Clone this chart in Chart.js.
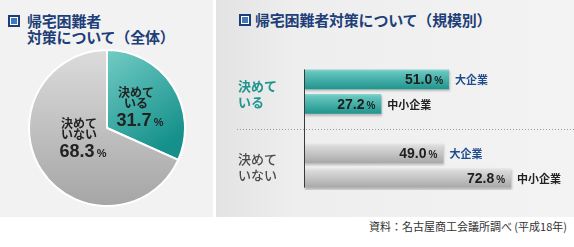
<!DOCTYPE html>
<html>
<head>
<meta charset="utf-8">
<script src="https://cdn.jsdelivr.net/npm/chart.js@4"></script>
<style>
  body { margin: 0; width: 574px; height: 247px; background: #fff; position: relative; overflow: hidden;
         font-family: "Noto Sans CJK JP", sans-serif; }
  .panel { position: absolute; top: 0; height: 217px; }
  #leftPanel { left: 0; width: 213px; background: #f2f2f2; }
  #rightPanel { left: 216px; width: 358px; background: linear-gradient(to right, #e3e3e3 0, #eeeeee 80px, #f3f3f3 100%); }
  .title { position: absolute; color: #1d3e78; font-weight: bold; font-size: 15px; line-height: 16px; letter-spacing: -0.2px; }
  .icon { position: absolute; width: 6px; height: 6px; background: #3f78bd; border: 1px solid #fff;
          box-shadow: 0 0 0 2px #1c3f78; }
  #source { position: absolute; right: 7px; top: 218px; font-size: 11px; color: #333; }
  canvas { position: absolute; }
</style>
</head>
<body>
<div class="panel" id="leftPanel"></div>
<div class="panel" id="rightPanel"></div>

<div class="icon" style="left:10px; top:17px;"></div>
<div class="title" style="left:27px; top:13px;">帰宅困難者<br>対策について（全体）</div>

<div class="icon" style="left:241px; top:16px;"></div>
<div class="title" style="left:255px; top:12px;">帰宅困難者対策について（規模別）</div>

<div id="source">資料：名古屋商工会議所調べ (平成18年)</div>

<div style="position:absolute; left:28px; top:49px; width:158px; height:158px;"><canvas id="pie"></canvas></div>
<div style="position:absolute; left:216px; top:50px; width:358px; height:150px;"><canvas id="bars"></canvas></div>

<script>
// pie (all companies)
var pieLabels = ['決めている', '決めていない'];
var pieLabelLines = [['決めて', 'いる'], ['決めて', 'いない']];
var pieValues = [31.7, 68.3];

// bars (by company size)
var groupLines = [['決めて', 'いる'], ['決めて', 'いない']];
var sizes = ['大企業', '中小企業'];
var decidedValues = [51.0, 27.2];
var undecidedValues = [49.0, 72.8];

var CJK = '"Noto Sans CJK JP", sans-serif';
var NUM = '"Liberation Sans", Arial, sans-serif';

// number followed by a small % sign
function drawPercent(ctx, value, x, y, numSize, pctSize, align) {
  var num = value.toFixed(1);
  ctx.font = 'bold ' + numSize + 'px ' + NUM;
  var wn = ctx.measureText(num).width;
  ctx.font = 'bold ' + pctSize + 'px ' + NUM;
  var wp = ctx.measureText('%').width;
  var total = wn + 2 + wp;
  var left = align === 'right' ? x - total : (align === 'center' ? x - total / 2 : x);
  ctx.textAlign = 'left';
  ctx.textBaseline = 'alphabetic';
  ctx.font = 'bold ' + numSize + 'px ' + NUM;
  ctx.fillText(num, left, y + numSize * 0.36);
  ctx.font = 'bold ' + pctSize + 'px ' + NUM;
  ctx.fillText('%', left + wn + 2, y + numSize * 0.36);
}

// ---------- pie ----------
var pieText = {
  id: 'pieText',
  afterDatasetsDraw: function(chart) {
    var ctx = chart.ctx;
    var a = chart.chartArea;
    var cx = (a.left + a.right) / 2, cy = (a.top + a.bottom) / 2;
    var spots = [[29, -24], [-28, 7]];
    ctx.save();
    ctx.fillStyle = '#222';
    pieValues.forEach(function(v, i) {
      var x = cx + spots[i][0], y = cy + spots[i][1];
      ctx.font = 'bold 12px ' + CJK;
      ctx.textAlign = 'center';
      ctx.textBaseline = 'middle';
      ctx.fillText(pieLabelLines[i][0], x, y - 12);
      ctx.fillText(pieLabelLines[i][1], x, y - 1);
      drawPercent(ctx, v, x + 4, y + 16, 18, 11, 'center');
    });
    ctx.restore();
  }
};

new Chart(document.getElementById('pie'), {
  type: 'pie',
  data: {
    labels: pieLabels,
    datasets: [{
      data: pieValues,
      borderColor: '#ffffff',
      borderWidth: 2,
      backgroundColor: function(c) {
        var a = c.chart.chartArea;
        if (!a) return '#ccc';
        if (c.dataIndex === 0) {
          var g2 = c.chart.ctx.createLinearGradient(a.left + 80, a.top, a.right - 10, a.top + 90);
          g2.addColorStop(0, '#72ccc5');
          g2.addColorStop(1, '#15908a');
          return g2;
        }
        var g = c.chart.ctx.createLinearGradient(0, a.top, 0, a.bottom);
        g.addColorStop(0, '#dcdcdc');
        g.addColorStop(1, '#a5a5a5');
        return g;
      }
    }]
  },
  options: {
    responsive: true,
    maintainAspectRatio: false,
    animation: false,
    events: [],
    layout: { padding: 0 },
    plugins: { legend: { display: false }, tooltip: { enabled: false } }
  },
  plugins: [pieText]
});

// ---------- bars ----------
var barLabels = sizes.concat([''], sizes);
var barValues = decidedValues.concat([null], undecidedValues);

var barDecor = {
  id: 'barDecor',
  beforeDatasetsDraw: function(chart) {
    var ctx = chart.ctx;
    var y = chart.scales.y;
    var a = chart.chartArea;
    var mid = y.getPixelForValue(2);
    ctx.save();
    ctx.strokeStyle = '#9a9a9a';
    ctx.lineWidth = 1;
    ctx.setLineDash([1, 2]);
    ctx.beginPath();
    ctx.moveTo(a.left - 67, Math.round(mid) + 0.5);
    ctx.lineTo(552, Math.round(mid) + 0.5);
    ctx.stroke();
    ctx.restore();
    // soft drop shadow under bars
    ctx.save();
    ctx.shadowColor = 'rgba(0,0,0,0.22)';
    ctx.shadowOffsetY = 2;
    ctx.shadowOffsetX = 1;
    ctx.shadowBlur = 2;
  },
  afterDatasetsDraw: function(chart) {
    var ctx = chart.ctx;
    ctx.restore();
    var a = chart.chartArea;
    var meta = chart.getDatasetMeta(0);
    var first = meta.data[0], last = meta.data[meta.data.length - 1];

    // axis line
    ctx.save();
    ctx.strokeStyle = '#3a3a3a';
    ctx.lineWidth = 1;
    ctx.beginPath();
    ctx.moveTo(Math.round(a.left) + 0.5, first.y - first.height / 2);
    ctx.lineTo(Math.round(a.left) + 0.5, last.y + last.height / 2);
    ctx.stroke();

    meta.data.forEach(function(bar, i) {
      var v = barValues[i];
      if (v == null) return;
      ctx.fillStyle = '#1e1e1e';
      drawPercent(ctx, v, bar.x - 6, bar.y, 14, 10, 'right');
      ctx.font = 'bold 11px ' + CJK;
      ctx.textAlign = 'left';
      ctx.textBaseline = 'middle';
      ctx.fillStyle = barLabels[i] === sizes[0] ? '#1f4c8c' : '#222';
      ctx.fillText(barLabels[i], bar.x + 6, bar.y + 1);
    });

    // group labels
    var groups = [[0, 1], [3, 4]];
    groups.forEach(function(idx, g) {
      var cy = (meta.data[idx[0]].y + meta.data[idx[1]].y) / 2 + 2;
      ctx.font = (g === 0 ? 'bold ' : '500 ') + '13px ' + CJK;
      ctx.fillStyle = g === 0 ? '#1e968d' : '#4a4a4a';
      ctx.textAlign = 'left';
      ctx.textBaseline = 'middle';
      ctx.fillText(groupLines[g][0], a.left - 66, cy - 8);
      ctx.fillText(groupLines[g][1], a.left - 66, cy + 8);
    });
    ctx.restore();
  }
};

new Chart(document.getElementById('bars'), {
  type: 'bar',
  data: {
    labels: barLabels,
    datasets: [{
      data: barValues,
      borderWidth: 0,
      categoryPercentage: 1,
      barPercentage: 0.8,
      backgroundColor: function(c) {
        var y = c.chart.scales.y;
        if (!y || c.dataIndex === undefined) return '#ccc';
        var mid = y.getPixelForValue(c.dataIndex);
        if (!isFinite(mid)) return '#ccc';
        var g = c.chart.ctx.createLinearGradient(0, mid - 10, 0, mid + 10);
        if (c.dataIndex < 2) {
          g.addColorStop(0, '#8ad6cf');
          g.addColorStop(0.15, '#63c4bd');
          g.addColorStop(1, '#1e948d');
        } else {
          g.addColorStop(0, '#ececec');
          g.addColorStop(0.15, '#dadada');
          g.addColorStop(1, '#a8a8a8');
        }
        return g;
      }
    }]
  },
  options: {
    indexAxis: 'y',
    responsive: true,
    maintainAspectRatio: false,
    animation: false,
    events: [],
    layout: { padding: { left: 88, top: 17, bottom: 10, right: 14 } },
    scales: {
      x: { display: false, min: 0, max: 90 },
      y: { display: false }
    },
    plugins: { legend: { display: false }, tooltip: { enabled: false } }
  },
  plugins: [barDecor]
});
</script>
</body>
</html>
